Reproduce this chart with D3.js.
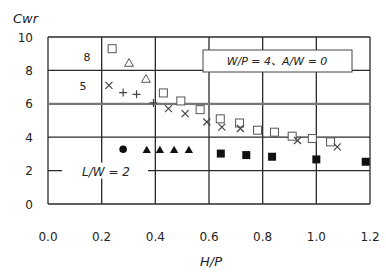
<!DOCTYPE html>
<html>
<head>
<meta charset="utf-8">
<script src="https://cdn.jsdelivr.net/npm/d3@7"></script>
<style>
  html, body { margin: 0; padding: 0; background: #fff; }
  text { font-family: 'DejaVu Sans', 'Noto Sans CJK JP', sans-serif; }
</style>
</head>
<body>
<div id="svg-container"></div>
<script>
// data (H/P, Cwr)
const openSquares = [
  [0.239, 9.3], [0.43, 6.65], [0.495, 6.17], [0.567, 5.65], [0.642, 5.1],
  [0.714, 4.85], [0.781, 4.42], [0.844, 4.3], [0.91, 4.06], [0.985, 3.92], [1.053, 3.72],
]
const openTriangles = [[0.302, 8.4], [0.365, 7.44]]
const crosses = [
  [0.227, 7.1], [0.449, 5.71], [0.511, 5.41], [0.592, 4.91], [0.648, 4.6],
  [0.717, 4.52], [0.93, 3.8], [1.078, 3.42],
]
const pluses = [[0.28, 6.67], [0.33, 6.57], [0.393, 6.05]]
const filledCircles = [[0.28, 3.28]]
const filledTriangles = [[0.368, 3.2], [0.417, 3.2], [0.47, 3.2], [0.525, 3.2]]
const filledSquares = [[0.644, 3.02], [0.739, 2.93], [0.835, 2.83], [1.0, 2.67], [1.184, 2.53]]

const xTicks = [0, 0.2, 0.4, 0.6, 0.8, 1.0, 1.2]
const yTicks = [0, 2, 4, 6, 8, 10]

const width = 386
const height = 272
const marginLeft = 48
const marginTop = 37
const coreWidth = 322
const coreHeight = 167

const svg = d3.select('#svg-container')
  .append('svg')
  .attr('width', width)
  .attr('height', height)
  .style('background', '#fff')

const chartCore = svg.append('g')
  .attr('transform', `translate(${marginLeft}, ${marginTop})`)

const xScale = d3.scaleLinear().domain([0, 1.2]).range([0, coreWidth])
const yScale = d3.scaleLinear().domain([0, 10]).range([coreHeight, 0])

// grid
chartCore.append('g')
  .selectAll('line')
  .data(xTicks)
  .join('line')
  .attr('x1', d => xScale(d))
  .attr('x2', d => xScale(d))
  .attr('y1', 0)
  .attr('y2', coreHeight)
  .attr('stroke', '#2a2a2a')
  .attr('stroke-width', 1.3)

chartCore.append('g')
  .selectAll('line')
  .data(yTicks)
  .join('line')
  .attr('x1', 0)
  .attr('x2', coreWidth)
  .attr('y1', d => yScale(d))
  .attr('y2', d => yScale(d))
  .attr('stroke', d => (d === 6 ? '#777' : '#2a2a2a'))
  .attr('stroke-width', d => (d === 6 ? 2.2 : 1.3))

// tick labels
svg.append('g')
  .selectAll('text')
  .data(xTicks)
  .join('text')
  .attr('x', d => marginLeft + xScale(d))
  .attr('y', 241)
  .attr('text-anchor', 'middle')
  .attr('font-size', 12)
  .attr('fill', '#222')
  .text(d => d.toFixed(1))

svg.append('g')
  .selectAll('text')
  .data(yTicks)
  .join('text')
  .attr('x', 33)
  .attr('y', d => marginTop + yScale(d) + 4.5)
  .attr('text-anchor', 'end')
  .attr('font-size', 12)
  .attr('fill', '#222')
  .text(d => d)

svg.append('text')
  .attr('x', 13)
  .attr('y', 23)
  .attr('font-size', 13)
  .attr('font-style', 'italic')
  .attr('fill', '#222')
  .text('Cwr')

svg.append('text')
  .attr('x', 211)
  .attr('y', 266)
  .attr('text-anchor', 'middle')
  .attr('font-size', 13)
  .attr('font-style', 'italic')
  .attr('fill', '#222')
  .text('H/P')

// in-plot labels
const note = chartCore.append('g')
note.append('rect')
  .attr('x', 155)
  .attr('y', 13)
  .attr('width', 149)
  .attr('height', 22)
  .attr('fill', '#fff')
  .attr('stroke', '#444')
  .attr('stroke-width', 1)
note.append('text')
  .attr('x', 229)
  .attr('y', 28)
  .attr('text-anchor', 'middle')
  .attr('font-size', 11)
  .attr('font-style', 'italic')
  .attr('fill', '#222')
  .text('W/P = 4、A/W = 0')

chartCore.append('rect')
  .attr('x', 14)
  .attr('y', yScale(2) - 8)
  .attr('width', 86)
  .attr('height', 16)
  .attr('fill', '#fff')
chartCore.append('text')
  .attr('x', 58)
  .attr('y', yScale(2) + 5)
  .attr('text-anchor', 'middle')
  .attr('font-size', 12)
  .attr('font-style', 'italic')
  .attr('fill', '#222')
  .text('L/W = 2')

chartCore.append('text')
  .attr('x', 39)
  .attr('y', yScale(8.8) + 4)
  .attr('text-anchor', 'middle')
  .attr('font-size', 11)
  .attr('fill', '#222')
  .text('8')
chartCore.append('text')
  .attr('x', 35)
  .attr('y', yScale(7.05) + 4)
  .attr('text-anchor', 'middle')
  .attr('font-size', 11)
  .attr('fill', '#222')
  .text('5')

// markers
const px = d => xScale(d[0])
const py = d => yScale(d[1])

chartCore.append('g')
  .selectAll('rect')
  .data(openSquares)
  .join('rect')
  .attr('x', d => px(d) - 4)
  .attr('y', d => py(d) - 4)
  .attr('width', 8)
  .attr('height', 8)
  .attr('fill', '#fff')
  .attr('stroke', '#555')
  .attr('stroke-width', 1)

chartCore.append('g')
  .selectAll('path')
  .data(openTriangles)
  .join('path')
  .attr('transform', d => `translate(${px(d)}, ${py(d)})`)
  .attr('d', d3.symbol(d3.symbolTriangle, 34))
  .attr('fill', '#fff')
  .attr('stroke', '#555')
  .attr('stroke-width', 1)

chartCore.append('g')
  .selectAll('path')
  .data(crosses)
  .join('path')
  .attr('transform', d => `translate(${px(d)}, ${py(d)})`)
  .attr('d', 'M-3.5,-3.5L3.5,3.5M-3.5,3.5L3.5,-3.5')
  .attr('stroke', '#444')
  .attr('stroke-width', 1.2)

chartCore.append('g')
  .selectAll('path')
  .data(pluses)
  .join('path')
  .attr('transform', d => `translate(${px(d)}, ${py(d)})`)
  .attr('d', 'M-4,0L4,0M0,-4L0,4')
  .attr('stroke', '#444')
  .attr('stroke-width', 1.2)

chartCore.append('g')
  .selectAll('circle')
  .data(filledCircles)
  .join('circle')
  .attr('cx', px)
  .attr('cy', py)
  .attr('r', 3.8)
  .attr('fill', '#111')

chartCore.append('g')
  .selectAll('path')
  .data(filledTriangles)
  .join('path')
  .attr('transform', d => `translate(${px(d)}, ${py(d)})`)
  .attr('d', d3.symbol(d3.symbolTriangle, 30))
  .attr('fill', '#111')

chartCore.append('g')
  .selectAll('rect')
  .data(filledSquares)
  .join('rect')
  .attr('x', d => px(d) - 4)
  .attr('y', d => py(d) - 4)
  .attr('width', 8)
  .attr('height', 8)
  .attr('fill', '#111')
</script>
</body>
</html>
